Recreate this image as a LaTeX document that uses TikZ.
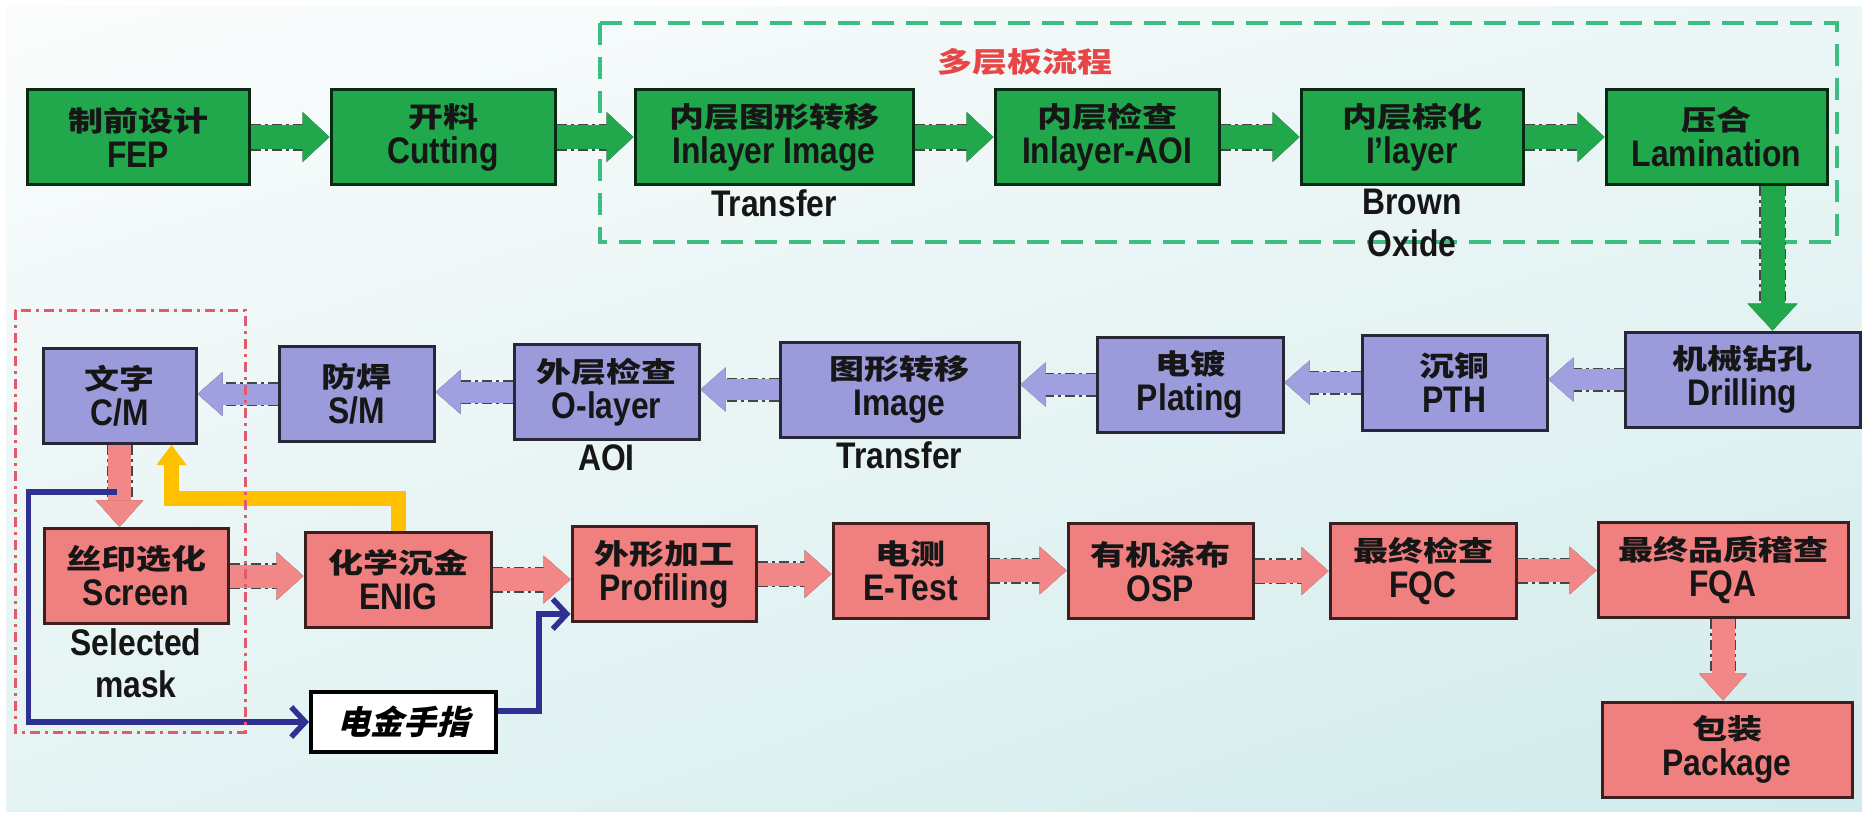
\documentclass[tikz,border=0pt]{standalone}
\usepackage{fontspec}
\setmainfont{Liberation Sans}[FakeStretch=0.86]
\newfontfamily\cjk{Noto Sans CJK SC}[FakeStretch=1.25]
\newfontfamily\cjkit{Noto Sans CJK SC}[FakeSlant=0.25]
\usetikzlibrary{arrows.meta,positioning,calc,shadings}
\definecolor{pcbgreen}{RGB}{34,168,76}
\definecolor{lav}{RGB}{155,155,220}
\definecolor{lavarr}{RGB}{160,160,225}
\definecolor{salmon}{RGB}{240,128,128}
\definecolor{salmonarr}{RGB}{242,135,135}
\definecolor{amber}{RGB}{255,192,0}
\definecolor{navy}{RGB}{46,49,146}
\definecolor{ink}{RGB}{22,22,22}
\definecolor{edge}{RGB}{70,70,70}
\definecolor{redlbl}{RGB}{232,70,70}
\definecolor{gframe}{RGB}{60,190,130}
\definecolor{rframe}{RGB}{225,90,110}
\definecolor{bgA}{RGB}{251,252,252}
\definecolor{bgB}{RGB}{236,246,246}
\definecolor{bgC}{RGB}{228,243,243}
\definecolor{bgD}{RGB}{210,235,235}
\newcommand\zhtxt[1]{{\cjk\fontsize{28}{36}\selectfont #1}}

\begin{document}
\begin{tikzpicture}[x=1pt,y=-1pt,
  box/.style={line width=3pt,inner sep=0pt,minimum height=95pt,align=center,text=ink,font=\bfseries\fontsize{37}{36}\selectfont},
  gbox/.style={box,fill=pcbgreen,draw=pcbgreen!25!black},
  lbox/.style={box,fill=lav,draw=lav!25!black},
  pbox/.style={box,fill=salmon,draw=salmon!25!black},
  sub/.style={inner sep=1pt,align=center,text=ink,font=\bfseries\fontsize{37}{42}\selectfont},
  fat/.style={line width=#1,preaction={draw=edge,line width=#1+3pt,dash pattern=on 10pt off 4pt on 3pt off 4pt}},
  garr/.style={fat=24pt,draw=pcbgreen,-{Triangle[length=27pt,width=50pt,line width=0.5pt]}},
  larr/.style={fat=21pt,draw=lavarr,-{Triangle[length=25pt,width=44pt,line width=0.5pt]}},
  parr/.style={fat=23pt,draw=salmonarr,-{Triangle[length=27pt,width=48pt,line width=0.5pt]}},
  yarr/.style={-{Triangle[length=20pt,width=30pt,line width=0.5pt]},line width=15pt,draw=amber},
  barr/.style={-{Straight Barb[length=14pt,width=30pt]},line width=5.5pt,draw=navy}]
\useasboundingbox (0,0) rectangle (1862,815);
\fill[white] (0,0) rectangle (1862,815);
\shade[upper left=bgA,upper right=bgB,lower left=bgC,lower right=bgD] (6,6) rectangle (1862,811);
\draw[gframe,line width=3.5pt,dash pattern=on 22pt off 12pt] (600,23) rectangle (1837,242);
\node[text=redlbl,font=\cjk\bfseries\fontsize{28}{30}\selectfont] (mtitle) at (1025,62) {多层板流程};

\node[gbox,minimum width=222pt] (fep) at (138,137) {\zhtxt{制前设计}\\FEP};
\node[gbox,minimum width=224pt] (cut) at (443,137) {\zhtxt{开料}\\Cutting};
\node[gbox,minimum width=278pt] (iit) at (774,137) {\zhtxt{内层图形转移}\\Inlayer Image};
\node[sub,below=2pt of iit] (iitx) {Transfer};
\node[gbox,minimum width=224pt] (iaoi) at (1107,137) {\zhtxt{内层检查}\\Inlayer-AOI};
\node[gbox,minimum width=222pt] (ibo) at (1412,137) {\zhtxt{内层棕化}\\I'layer};
\node[sub,below=2pt of ibo] (ibox) {Brown\\Oxide};
\node[gbox,minimum width=221pt] (lam) at (1716.5,137) {\zhtxt{压合}\\Lamination};

\node[lbox,minimum width=235pt] (drl) at (1742.5,379.5) {\zhtxt{机械钻孔}\\Drilling};
\node[lbox,minimum width=185pt] (pth) at (1454.5,382.5) {\zhtxt{沉铜}\\PTH};
\node[lbox,minimum width=186pt] (plt) at (1190,384.5) {\zhtxt{电镀}\\Plating};
\node[lbox,minimum width=239pt] (img) at (899.5,389.5) {\zhtxt{图形转移}\\Image};
\node[sub,below=2pt of img] (imgx) {Transfer};
\node[lbox,minimum width=185pt] (oaoi) at (606.5,392) {\zhtxt{外层检查}\\O-layer};
\node[sub,below=2pt of oaoi] (oaoix) {AOI};
\node[lbox,minimum width=155pt] (sm) at (356.5,394) {\zhtxt{防焊}\\S/M};
\node[lbox,minimum width=153pt] (cm) at (119.5,396) {\zhtxt{文字}\\C/M};

\node[pbox,minimum width=184pt] (scr) at (136,576) {\zhtxt{丝印选化}\\Screen};
\node[sub,below=2pt of scr] (scrx) {Selected\\mask};
\node[pbox,minimum width=186pt] (enig) at (398,579.5) {\zhtxt{化学沉金}\\ENIG};
\node[pbox,minimum width=184pt] (prof) at (664,574) {\zhtxt{外形加工}\\Profiling};
\node[pbox,minimum width=155pt] (etst) at (910.5,570.5) {\zhtxt{电测}\\E-Test};
\node[pbox,minimum width=185pt] (osp) at (1160.5,571) {\zhtxt{有机涂布}\\OSP};
\node[pbox,minimum width=186pt] (fqc) at (1423,570.5) {\zhtxt{最终检查}\\FQC};
\node[pbox,minimum width=250pt] (fqa) at (1723,569.5) {\zhtxt{最终品质稽查}\\FQA};
\node[pbox,minimum width=250pt] (pkg) at (1727,749.5) {\zhtxt{包装}\\Package};
\node[draw=black,line width=4pt,fill=white,minimum width=185pt,minimum height=60pt,inner sep=0pt,
  font=\cjkit\bfseries\fontsize{33}{33}\selectfont] (efin) at (403.5,722) {电金手指};

\foreach \u/\v in {fep/cut,cut/iit,iit/iaoi,iaoi/ibo,ibo/lam} \draw[garr] (\u) -- (\v);
\draw[garr] ([xshift=56pt]lam.south) -- ([xshift=56pt]lam.south |- drl.north);
\foreach \u/\v in {drl/pth,pth/plt,plt/img,img/oaoi,oaoi/sm,sm/cm} \draw[larr] (\u.west) -- (\u.west -| \v.east);
\draw[parr] (cm.south) -- (cm.south |- scr.north);
\foreach \u/\v in {scr/enig,enig/prof,prof/etst,etst/osp,osp/fqc,fqc/fqa} \draw[parr] (\u.east) -- (\u.east -| \v.west);
\draw[parr] (fqa.south) -- (fqa.south |- pkg.north);
\draw[yarr] (enig.north) -- ++(0,-32) -| ([xshift=52pt]cm.south);
\coordinate (br) at ([xshift=-3pt,yshift=-47pt]cm.south);
\draw[barr] (br) -- ++(-88,0) |- (efin.west);
\draw[barr] ([yshift=11pt]efin.east) -- ++(41,0) |- ([yshift=-40pt]prof.west);
\draw[rframe,line width=3pt,dash pattern=on 10pt off 5pt on 3pt off 5pt] (15,310) rectangle (245,732);
\end{tikzpicture}
\end{document}
